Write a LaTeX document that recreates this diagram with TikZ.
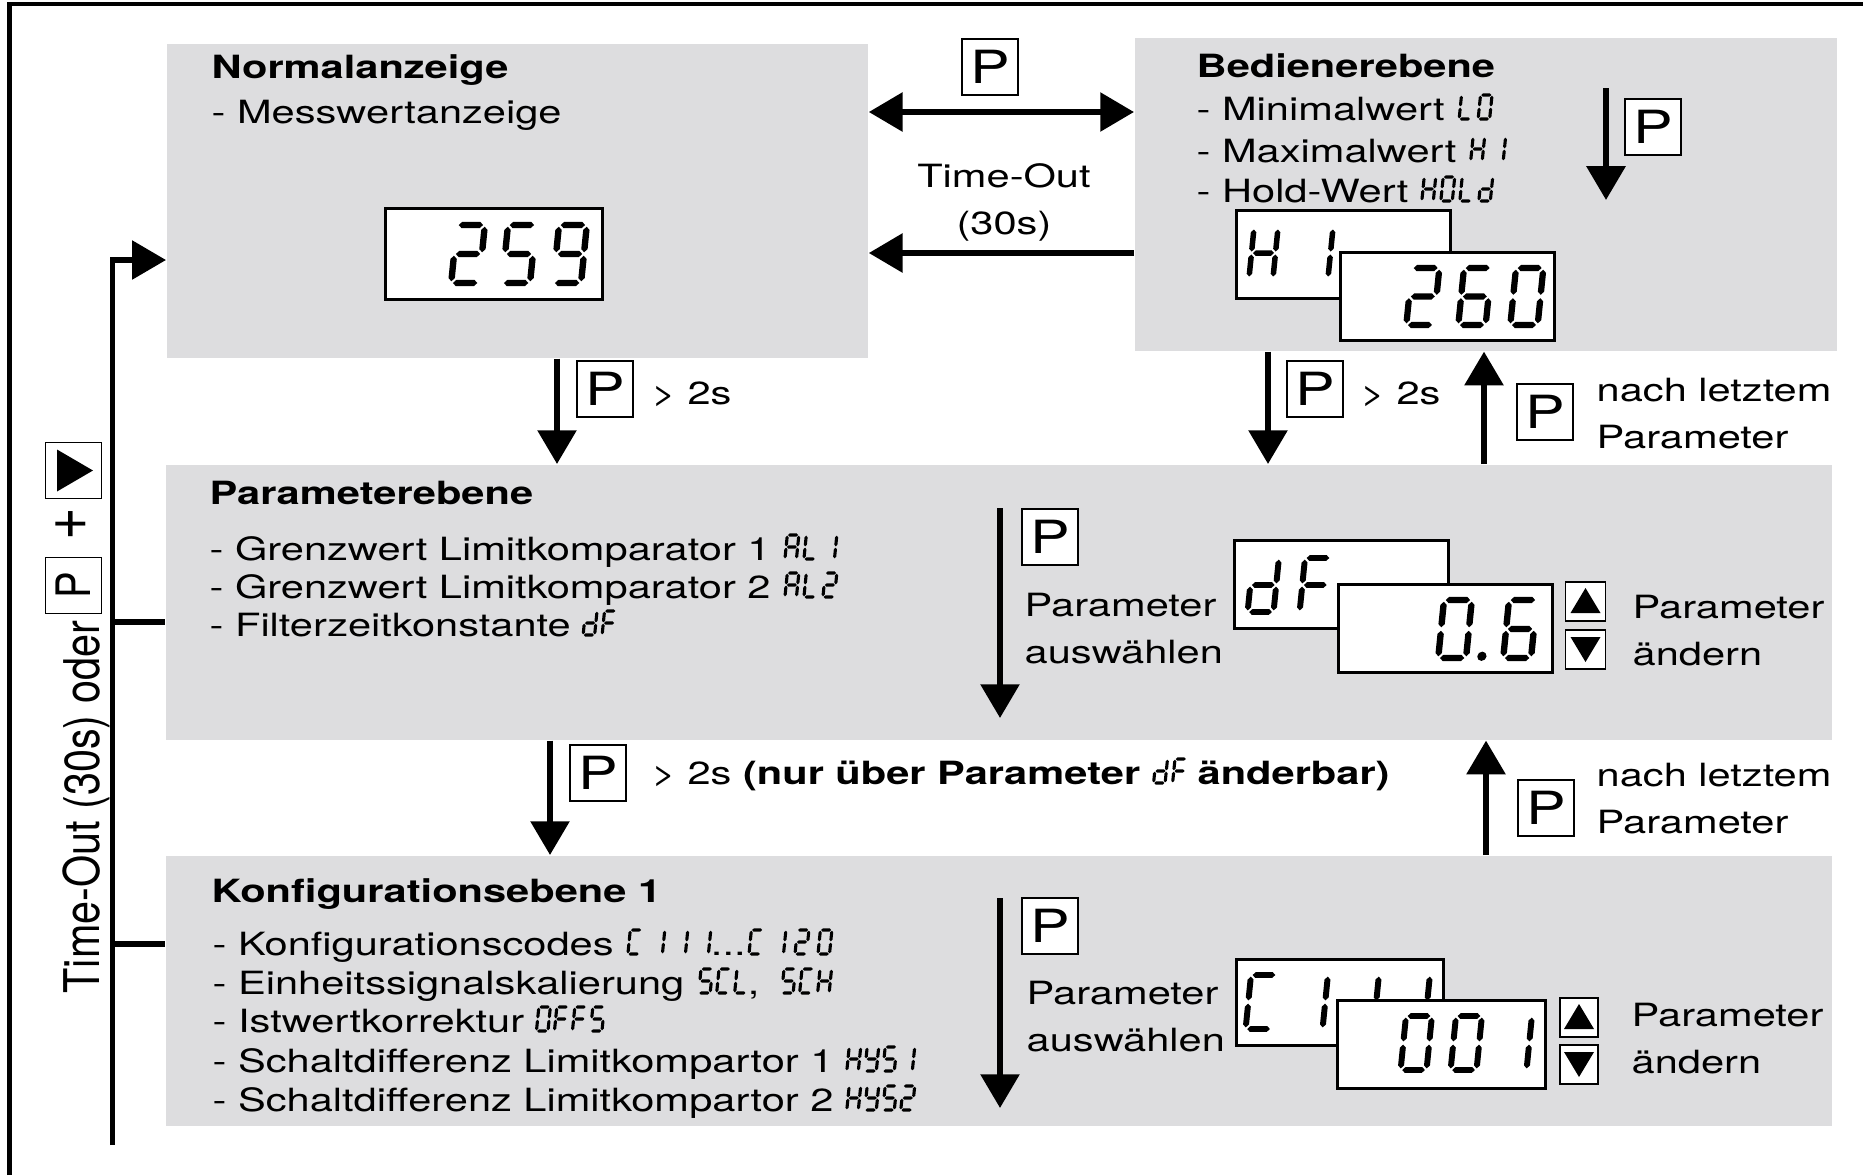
\documentclass[tikz,border=0pt]{standalone}
\usepackage{fontspec}
\setmainfont{TeX Gyre Heros}[FakeStretch=1.3]
\newfontfamily\keyfont{TeX Gyre Heros}[FakeStretch=1.3]
\newfontfamily\sidefont{TeX Gyre Heros}[FakeStretch=0.84]
\usepackage{tikz}
\usetikzlibrary{arrows.meta}
\usetikzlibrary{calc}

\definecolor{stagegray}{RGB}{221,221,223}
\newcommand\txtsize{\fontsize{9.1}{11}\selectfont}

% seven-segment pieces, cell 0.48 x 1, y downwards
\def\lcdt{0.055}
\newcommand\lcdhseg[3]{\fill ({#1},{#3}) -- ({#1+\lcdt},{#3-\lcdt}) -- ({#2-\lcdt},{#3-\lcdt}) -- ({#2},{#3}) -- ({#2-\lcdt},{#3+\lcdt}) -- ({#1+\lcdt},{#3+\lcdt}) -- cycle;}
\newcommand\lcdvseg[3]{\fill ({#3},{#1}) -- ({#3+\lcdt},{#1+\lcdt}) -- ({#3+\lcdt},{#2-\lcdt}) -- ({#3},{#2}) -- ({#3-\lcdt},{#2-\lcdt}) -- ({#3-\lcdt},{#1+\lcdt}) -- cycle;}
\newcommand\lcdsega{\lcdhseg{0.03}{0.45}{0}}
\newcommand\lcdsegb{\lcdvseg{0.03}{0.47}{0.48}}
\newcommand\lcdsegc{\lcdvseg{0.53}{0.97}{0.48}}
\newcommand\lcdsegd{\lcdhseg{0.03}{0.45}{1}}
\newcommand\lcdsege{\lcdvseg{0.53}{0.97}{0}}
\newcommand\lcdsegf{\lcdvseg{0.03}{0.47}{0}}
\newcommand\lcdsegg{\lcdhseg{0.03}{0.45}{0.5}}
\newcommand\lcdsegp{\fill (0.75,0.97) circle (0.08);}

% [#1 half thickness] #2 origin, #3 digit height, #4 pitch, #5 segment groups
\newcommand\lcdrow[5][0.055]{%
  \begin{scope}[shift={#2}]
    \def\lcdt{#1}
    \foreach \segs [count=\k from 0] in {#5} {
      \begin{scope}[shift={(\k*#4,0)}, scale=#3, xslant=0.1]
        \foreach \s in \segs {\csname lcdseg\s\endcsname}
      \end{scope}
    }
  \end{scope}}

\begin{document}
\begin{tikzpicture}[x=0.01cm, y=-0.01cm, >={Triangle[length=9.6pt, width=10.8pt]},
            stage/.style={fill=stagegray, anchor=north west, inner sep=0pt},
            lcd box/.style={draw, fill=white, line width=0.85pt, anchor=north west, inner sep=0pt, minimum width=2.14cm, minimum height=0.88cm},
            key node/.style={draw, fill=white, line width=0.5pt, inner sep=0pt, minimum size=0.56cm, font=\keyfont\fontsize{13}{13}\selectfont},
            updown/.style={draw, fill=white, line width=0.5pt, inner sep=0pt, minimum width=0.4cm, minimum height=0.39cm},
            txt/.style={inner sep=0pt, anchor=base west, font=\txtsize},
            head/.style={txt, font=\txtsize\bfseries},
            lbl/.style={inner sep=0pt, anchor=north west, align=left, font=\fontsize{9.1}{13.4}\selectfont},
            flow/.style={line width=1.7pt, ->},
            bus/.style={line width=1.45pt},
            ]
            \useasboundingbox (0,0) rectangle (1863,1175);
            \draw[line width=1.15pt] (9.5,1175) -- (9.5,4) -- (1863,4);

            \node[stage, minimum width=7.01cm, minimum height=3.14cm] (normal) at (166,43) {};
            \node[stage, minimum width=7.02cm, minimum height=3.13cm] (bedien) at (1134,37) {};
            \node[stage, minimum width=16.65cm, minimum height=2.75cm] (param) at (165,464) {};
            \node[stage, minimum width=16.65cm, minimum height=2.70cm] (konfig) at (165,855) {};

            % Normalanzeige
            \node[head] (normhead) at (211,78) {Normalanzeige};
            \node[txt] (messw) at (211,123) {- Messwertanzeige};
            \node[lcd box, minimum width=2.17cm, minimum height=0.91cm] (d259) at (384,207) {};
            \lcdrow{(457,225)}{58}{51}{{a,b,g,e,d},{a,f,g,c,d},{a,b,c,d,f,g}}

            % Bedienerebene
            \node[head] (bedhead) at (1196,77) {Bedienerebene};
            \node[txt] (minw) at (1196,120) {- Minimalwert};
            \node[txt] (maxw) at (1196,162) {- Maximalwert};
            \node[txt] (holdw) at (1196,202) {- Hold-Wert};
            \lcdrow[0.065]{($(minw.base east)+(16,-25)$)}{24}{19}{{d,e,f},{a,b,c,d,e,f}}
            \lcdrow[0.065]{($(maxw.base east)+(16,-25)$)}{24}{21}{{b,c,e,f,g},{b,c}}
            \lcdrow[0.065]{($(holdw.base east)+(15,-25)$)}{24}{19}{{b,c,e,f,g},{a,b,c,d,e,f},{d,e,f},{b,c,d,e,g}}
            \coordinate (bedA) at (1606,88);
            \coordinate (bedB) at (1606,200);
            \draw[flow] (bedA) -- (bedB);
            \node[key node] (pbed) at (1653,127) {P};
            \node[lcd box] (dhi) at (1235,209) {};
            \lcdrow{(1254,228)}{50}{55}{{b,c,e,f,g},{b,c}}
            \node[lcd box] (d260) at (1339,251) {};
            \lcdrow{(1412,268)}{57}{52}{{a,b,g,e,d},{a,f,g,e,c,d},{a,b,c,d,e,f}}

            % between the upper levels
            \draw[flow, <->] (normal.east |- 0,112) -- (bedien.west |- 0,112);
            \node[key node] (ptop) at (990,67) {P};
            \draw[flow] (bedien.west |- 0,253) -- (normal.east |- 0,253);
            \node[lbl, align=center, anchor=north] (timeout) at (1004,163) {Time-Out\\(30s)};

            \draw[flow] (557,0 |- normal.south) -- (557,0 |- param.north);
            \node[key node] (pdown1) at (605,389) {P};
            \node[txt] (gt1) at (651,404) {> 2s};
            \draw[flow] (1268,0 |- bedien.south) -- (1268,0 |- param.north);
            \node[key node] (pdown2) at (1315,389) {P};
            \node[txt] (gt2) at (1360,404) {> 2s};
            \draw[flow] (1484,0 |- param.north) -- (1484,0 |- bedien.south);
            \node[key node] (pup1) at (1545,412) {P};
            \node[lbl] (last1) at (1596,377) {nach letztem\\Parameter};

            % Parameterebene
            \node[head] (parhead) at (209,504) {Parameterebene};
            \node[txt] (grenz1) at (209,560) {- Grenzwert Limitkomparator 1};
            \node[txt] (grenz2) at (209,598) {- Grenzwert Limitkomparator 2};
            \node[txt] (filter) at (209,636) {- Filterzeitkonstante};
            \lcdrow[0.065]{($(grenz1.base east)+(16,-25)$)}{24}{19}{{a,b,c,e,f,g},{d,e,f},{b,c}}
            \lcdrow[0.065]{($(grenz2.base east)+(16,-25)$)}{24}{19}{{a,b,c,e,f,g},{d,e,f},{a,b,g,e,d}}
            \lcdrow[0.065]{($(filter.base east)+(14,-25)$)}{24}{19}{{b,c,d,e,g},{a,e,f,g}}
            \coordinate (selA) at (1000,508);
            \coordinate (selB) at (1000,718);
            \draw[flow] (selA) -- (selB);
            \node[key node] (psel1) at (1050,537) {P};
            \node[lbl] (ausw1) at (1024,592) {Parameter\\auswählen};
            \node[lcd box] (ddf) at (1233,539) {};
            \lcdrow{(1253,558)}{54}{52}{{b,c,d,e,g},{a,e,f,g}}
            \node[lcd box] (d06) at (1337,583) {};
            \lcdrow{(1444,600)}{58}{65}{{a,b,c,d,e,f,p},{a,f,g,e,c,d}}
            \node[updown] (up1) at (1585.5,601.5) {};
            \node[updown] (down1) at (1585.5,649.5) {};
            \fill ([shift={(-15,11.5)}]up1.center) -- ([shift={(15,11.5)}]up1.center) -- ([shift={(0,-13.5)}]up1.center) -- cycle;
            \fill ([shift={(-15,-12.5)}]down1.center) -- ([shift={(15,-12.5)}]down1.center) -- ([shift={(0,12.5)}]down1.center) -- cycle;
            \node[lbl] (aend1) at (1632,594) {Parameter\\ändern};

            % between the lower levels
            \draw[flow] (550,0 |- param.south) -- (550,0 |- konfig.north);
            \node[key node] (pdown3) at (598,773) {P};
            \node[txt] (nurueber) at (651,784) {> 2s \textbf{(nur über Parameter}};
            \lcdrow[0.065]{($(nurueber.base east)+(15,-25)$)}{24}{19}{{b,c,d,e,g},{a,e,f,g}}
            \node[txt, font=\txtsize\bfseries] (aenderbar) at ($(nurueber.base east)+(56,0)$) {änderbar)};
            \draw[flow] (1486,0 |- konfig.north) -- (1486,0 |- param.south);
            \node[key node] (pup2) at (1546,808) {P};
            \node[lbl] (last2) at (1596,762) {nach letztem\\Parameter};

            % Konfigurationsebene 1
            \node[head] (konhead) at (211,902) {Konfigurationsebene 1};
            \node[txt] (kcodes) at (212,955) {- Konfigurationscodes};
            \node[txt] (einheit) at (212,994) {- Einheitssignalskalierung};
            \node[txt] (istwert) at (212,1032) {- Istwertkorrektur};
            \node[txt] (hyst1) at (212,1072) {- Schaltdifferenz Limitkompartor 1};
            \node[txt] (hyst2) at (212,1111) {- Schaltdifferenz Limitkompartor 2};
            \lcdrow[0.065]{($(kcodes.base east)+(16,-25)$)}{24}{23}{{a,d,e,f},{b,c},{b,c},{b,c}}
            \node[txt] (dots) at ($(kcodes.base east)+(96,0)$) {...};
            \lcdrow[0.065]{($(dots.base east)+(5,-25)$)}{24}{23}{{a,d,e,f},{b,c},{a,b,g,e,d},{a,b,c,d,e,f}}
            \lcdrow[0.065]{($(einheit.base east)+(16,-25)$)}{24}{18}{{a,f,g,c,d},{a,d,e,f},{d,e,f}}
            \node[txt] (comma) at ($(einheit.base east)+(62,0)$) {,};
            \lcdrow[0.065]{($(comma.base east)+(24,-25)$)}{24}{18}{{a,f,g,c,d},{a,d,e,f},{b,c,e,f,g}}
            \lcdrow[0.065]{($(istwert.base east)+(14,-25)$)}{24}{18}{{a,b,c,d,e,f},{a,e,f,g},{a,e,f,g},{a,f,g,c,d}}
            \lcdrow[0.065]{($(hyst1.base east)+(15,-25)$)}{24}{18}{{b,c,e,f,g},{b,c,d,f,g},{a,f,g,c,d},{b,c}}
            \lcdrow[0.065]{($(hyst2.base east)+(15,-25)$)}{24}{18}{{b,c,e,f,g},{b,c,d,f,g},{a,f,g,c,d},{a,b,g,e,d}}
            \coordinate (selC) at (1000,898);
            \coordinate (selD) at (1000,1108);
            \draw[flow] (selC) -- (selD);
            \node[key node] (psel2) at (1050,926) {P};
            \node[lbl] (ausw2) at (1026,980) {Parameter\\auswählen};
            \node[lcd box, minimum width=2.07cm, minimum height=0.86cm] (dc111) at (1235,958) {};
            \lcdrow{(1251,975)}{54}{51}{{a,d,e,f},{b,c},{b,c},{b,c}}
            \node[lcd box, minimum width=2.08cm] (d001) at (1336,999) {};
            \lcdrow{(1406,1016)}{54}{50}{{a,b,c,d,e,f},{a,b,c,d,e,f},{b,c}}
            \node[updown, minimum width=0.38cm] (up2) at (1579,1017.5) {};
            \node[updown, minimum width=0.38cm] (down2) at (1579,1064.5) {};
            \fill ([shift={(-15,11.5)}]up2.center) -- ([shift={(15,11.5)}]up2.center) -- ([shift={(0,-13.5)}]up2.center) -- cycle;
            \fill ([shift={(-15,-12.5)}]down2.center) -- ([shift={(15,-12.5)}]down2.center) -- ([shift={(0,12.5)}]down2.center) -- cycle;
            \node[lbl] (aend2) at (1631,1002) {Parameter\\ändern};

            % return path on the left
            \coordinate (bustop) at (112.5,260);
            \coordinate (busend) at (112.5,1145);
            \coordinate (bus3) at (112.5,622);
            \coordinate (bus4) at (112.5,944);
            \draw[bus, ->] (busend) -- (bustop) -- (normal.west |- bustop);
            \draw[bus] (bus3) -- (param.west |- bus3);
            \draw[bus] (bus4) -- (konfig.west |- bus4);
            \node[inner sep=0pt, anchor=base west, rotate=90, font=\sidefont\fontsize{14}{14}\selectfont] (sidelabel) at (100,994) {Time-Out (30s) oder};
            \node[key node, rotate=90, minimum size=0.56cm, font=\sidefont\fontsize{13.5}{13.5}\selectfont] (pside) at (73.5,585.5) {P};
            \node[inner sep=0pt, rotate=90, font=\sidefont\fontsize{19}{19}\selectfont] (plus) at (72,524) {+};
            \node[key node] (nextkey) at (73.5,470.5) {};
            \fill ([shift={(-16.5,-21)}]nextkey.center) -- ([shift={(-16.5,21)}]nextkey.center) -- ([shift={(19.5,0)}]nextkey.center) -- cycle;
        \end{tikzpicture}
\end{document}
